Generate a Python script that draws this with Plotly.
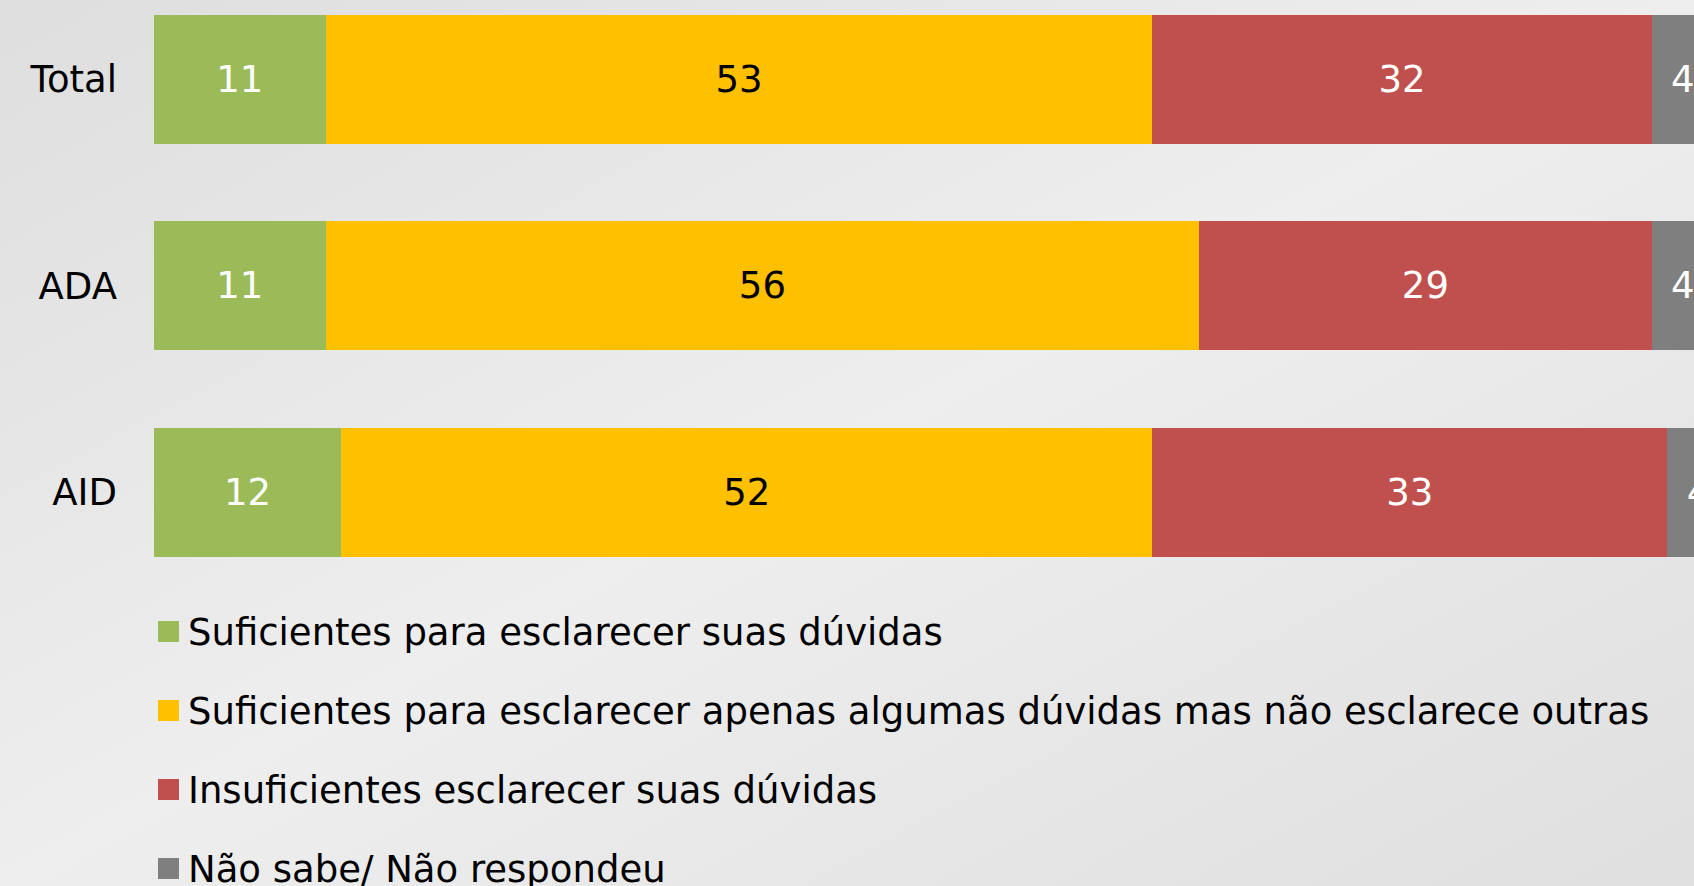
import base64
import plotly.graph_objects as go

# Survey results (%), one row per group
categories = ["Total", "ADA", "AID"]
series_names = [
    "Suficientes para esclarecer suas dúvidas",
    "Suficientes para esclarecer apenas algumas dúvidas mas não esclarece outras",
    "Insuficientes esclarecer suas dúvidas",
    "Não sabe/ Não respondeu",
]
suficientes = [11, 11, 12]
parciais = [53, 56, 52]
insuficientes = [32, 29, 33]
nao_sabe = [4, 4, 4]

series_values = [suficientes, parciais, insuficientes, nao_sabe]
colors = ["#9BBB59", "#FFC000", "#C0504D", "#7F7F7F"]
text_colors = ["white", "black", "white", "white"]

W, H = 1694, 886
ML, MT, MB = 154, 0, 286
PW, PH = W - ML, H - MT - MB
FONT = "DejaVu Sans"
FS = 37

def px_x(px):
    return (px - ML) / PW

def px_y(py):
    return 1 - (py - MT) / PH

fig = go.Figure()
for name, vals, col, tcol in zip(series_names, series_values, colors, text_colors):
    fig.add_trace(go.Bar(
        y=categories, x=vals, name=name, orientation="h",
        marker=dict(color=col, line=dict(width=0)),
        text=vals, texttemplate="%{x}", textposition="inside",
        insidetextanchor="middle", constraintext="none",
        textfont=dict(family=FONT, size=FS, color=tcol),
        hoverinfo="skip", showlegend=False,
    ))

# band height in px per category and first-row centre
band = 206.3
first_center = 79.5
y_top = -(first_center - MT) / band
y_bottom = y_top + PH / band

# diagonal grey gradient background
svg = f"""<svg xmlns='http://www.w3.org/2000/svg' width='{W}' height='{H}' viewBox='0 0 {W} {H}' preserveAspectRatio='none'>
<defs><linearGradient id='g' x1='0' y1='0' x2='1' y2='1'>
<stop offset='0' stop-color='#dedede'/>
<stop offset='0.5' stop-color='#eeeeee'/>
<stop offset='1' stop-color='#dfdfdf'/>
</linearGradient></defs>
<rect width='{W}' height='{H}' fill='url(#g)'/></svg>"""
src = "data:image/svg+xml;base64," + base64.b64encode(svg.encode()).decode()

shapes = []
annotations = []
legend_centers = [631.5, 710.5, 789.5, 868.5]
for name, col, cy in zip(series_names, colors, legend_centers):
    shapes.append(dict(
        type="rect", xref="paper", yref="paper",
        x0=px_x(158), x1=px_x(179), y0=px_y(cy - 10.5), y1=px_y(cy + 10.5),
        fillcolor=col, line=dict(width=0), layer="above",
    ))
    annotations.append(dict(
        text=name, xref="paper", yref="paper", x=px_x(186), y=px_y(cy + 1),
        xanchor="left", yanchor="middle", showarrow=False,
        font=dict(family=FONT, size=FS, color="black"),
    ))

fig.update_layout(
    width=W, height=H,
    margin=dict(l=ML, r=0, t=MT, b=MB, pad=0),
    barmode="stack", bargap=0.375,
    paper_bgcolor="#e8e8e8", plot_bgcolor="rgba(0,0,0,0)",
    font=dict(family=FONT, size=FS, color="black"),
    xaxis=dict(range=[0, PW / 15.6], visible=False, fixedrange=True),
    yaxis=dict(
        range=[y_bottom, y_top], autorange=False, type="category",
        showgrid=False, zeroline=False, showline=False, ticks="",
        ticklabelstandoff=36, tickfont=dict(family=FONT, size=FS, color="black"),
        fixedrange=True,
    ),
    images=[dict(
        source=src, xref="paper", yref="paper",
        x=px_x(0), y=px_y(0), sizex=W / PW, sizey=H / PH,
        xanchor="left", yanchor="top", sizing="stretch", layer="below",
    )],
    shapes=shapes,
    annotations=annotations,
    showlegend=False,
)

fig.write_html("out.html", config={"displayModeBar": False})
